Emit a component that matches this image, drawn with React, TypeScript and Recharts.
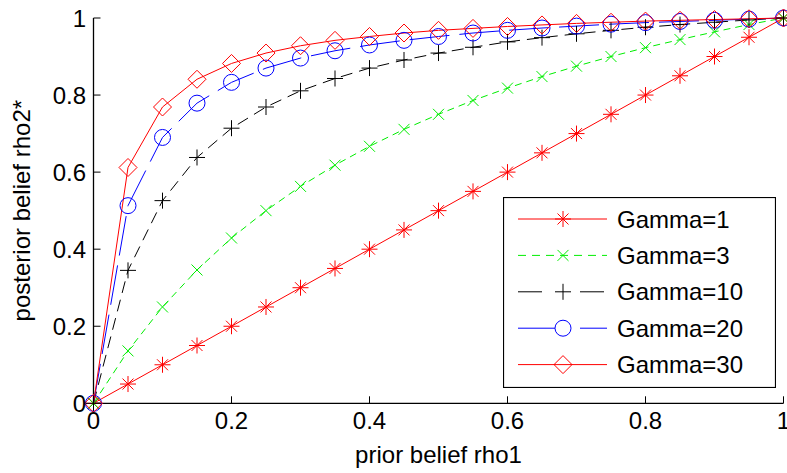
import React from 'react';
import { LineChart, Line, XAxis, YAxis, Legend, Label } from 'recharts';

// prior belief rho1 (x axis)
const priorBelief = [0, 0.05, 0.1, 0.15, 0.2, 0.25, 0.3, 0.35, 0.4, 0.45, 0.5, 0.55, 0.6, 0.65, 0.7, 0.75, 0.8, 0.85, 0.9, 0.95, 1];

// posterior belief rho2* for each Gamma
const gamma1 = [0, 0.05, 0.1, 0.15, 0.2, 0.25, 0.3, 0.35, 0.4, 0.45, 0.5, 0.55, 0.6, 0.65, 0.7, 0.75, 0.8, 0.85, 0.9, 0.95, 1];
const gamma3 = [0, 0.136, 0.25, 0.346, 0.429, 0.5, 0.563, 0.618, 0.667, 0.711, 0.75, 0.786, 0.818, 0.848, 0.875, 0.9, 0.923, 0.944, 0.964, 0.983, 1];
const gamma10 = [0, 0.345, 0.526, 0.638, 0.714, 0.769, 0.811, 0.843, 0.87, 0.891, 0.909, 0.924, 0.938, 0.949, 0.959, 0.968, 0.976, 0.983, 0.989, 0.995, 1];
const gamma20 = [0, 0.513, 0.69, 0.779, 0.833, 0.87, 0.896, 0.915, 0.93, 0.942, 0.952, 0.961, 0.968, 0.974, 0.979, 0.984, 0.988, 0.991, 0.994, 0.997, 1];
const gamma30 = [0, 0.612, 0.769, 0.841, 0.882, 0.909, 0.928, 0.942, 0.952, 0.961, 0.968, 0.973, 0.978, 0.982, 0.986, 0.989, 0.992, 0.994, 0.996, 0.998, 1];

const seriesNames = ['Gamma=1', 'Gamma=3', 'Gamma=10', 'Gamma=20', 'Gamma=30'];
const xTicks = [0, 0.2, 0.4, 0.6, 0.8, 1];
const yTicks = [0, 0.2, 0.4, 0.6, 0.8, 1];
const xLabel = 'prior belief rho1';
const yLabel = 'posterior belief rho2*';

const data = priorBelief.map((x, i) => ({
  x,
  g1: gamma1[i],
  g3: gamma3[i],
  g10: gamma10[i],
  g20: gamma20[i],
  g30: gamma30[i],
}));

const FONT = '"Liberation Sans", Arial, Helvetica, sans-serif';

type MarkerKind = 'star' | 'x' | 'plus' | 'circle' | 'diamond';

function Marker({ kind, cx, cy, color }: { kind: MarkerKind; cx: number; cy: number; color: string }) {
  const sw = 1;
  if (kind === 'star') {
    const h = 8;
    const d = 5.5;
    return (
      <g stroke={color} strokeWidth={sw} fill="none">
        <line x1={cx - h} y1={cy} x2={cx + h} y2={cy} />
        <line x1={cx} y1={cy - h} x2={cx} y2={cy + h} />
        <line x1={cx - d} y1={cy - d} x2={cx + d} y2={cy + d} />
        <line x1={cx - d} y1={cy + d} x2={cx + d} y2={cy - d} />
      </g>
    );
  }
  if (kind === 'x') {
    const d = 5.5;
    return (
      <g stroke={color} strokeWidth={sw} fill="none">
        <line x1={cx - d} y1={cy - d} x2={cx + d} y2={cy + d} />
        <line x1={cx - d} y1={cy + d} x2={cx + d} y2={cy - d} />
      </g>
    );
  }
  if (kind === 'plus') {
    const h = 8;
    return (
      <g stroke={color} strokeWidth={sw} fill="none">
        <line x1={cx - h} y1={cy} x2={cx + h} y2={cy} />
        <line x1={cx} y1={cy - h} x2={cx} y2={cy + h} />
      </g>
    );
  }
  if (kind === 'circle') {
    return <circle cx={cx} cy={cy} r={8} stroke={color} strokeWidth={sw} fill="none" />;
  }
  const d = 9;
  return (
    <polygon
      points={`${cx},${cy - d} ${cx + d},${cy} ${cx},${cy + d} ${cx - d},${cy}`}
      stroke={color}
      strokeWidth={sw}
      fill="none"
    />
  );
}

const makeDot = (kind: MarkerKind, color: string) => (props: any) => {
  const { cx, cy, index } = props;
  if (cx == null || cy == null) return <g key={`d-${kind}-${index}`} />;
  return (
    <g key={`d-${kind}-${index}`}>
      <Marker kind={kind} cx={cx} cy={cy} color={color} />
    </g>
  );
};

const seriesStyles = [
  { key: 'g1', color: '#ff0000', dash: undefined as string | undefined, marker: 'star' as MarkerKind },
  { key: 'g3', color: '#00ee00', dash: '7 5', marker: 'x' as MarkerKind },
  { key: 'g10', color: '#000000', dash: '12 7', marker: 'plus' as MarkerKind },
  { key: 'g20', color: '#0000ff', dash: '40 10', marker: 'circle' as MarkerKind },
  { key: 'g30', color: '#ff0000', dash: undefined as string | undefined, marker: 'diamond' as MarkerKind },
];

function LegendBox() {
  const W = 273;
  const H = 191;
  const rowY = (i: number) => 22 + i * 36.4;
  return (
    <svg width={W} height={H} style={{ display: 'block' }}>
      <rect x={0.5} y={0.5} width={W - 1} height={H - 1} fill="#fff" stroke="#000" strokeWidth={1.2} />
      {seriesNames.map((name, i) => {
        const s = seriesStyles[i];
        const y = rowY(i);
        let lines: React.ReactNode;
        if (i === 1) {
          lines = <line x1={15} y1={y} x2={104} y2={y} stroke={s.color} strokeWidth={1} strokeDasharray="8 6" />;
        } else if (i === 2) {
          lines = (
            <g stroke={s.color} strokeWidth={1}>
              <line x1={15} y1={y} x2={39} y2={y} />
              <line x1={77} y1={y} x2={101} y2={y} />
            </g>
          );
        } else if (i === 3) {
          lines = (
            <g stroke={s.color} strokeWidth={1}>
              <line x1={15} y1={y} x2={52} y2={y} />
              <line x1={77} y1={y} x2={104} y2={y} />
            </g>
          );
        } else {
          lines = <line x1={15} y1={y} x2={104} y2={y} stroke={s.color} strokeWidth={1} />;
        }
        return (
          <g key={name}>
            {lines}
            <Marker kind={s.marker} cx={60} cy={y} color={s.color} />
            <text x={114} y={y + 8.5} fontFamily={FONT} fontSize={24} fill="#000">
              {name}
            </text>
          </g>
        );
      })}
    </svg>
  );
}

const renderYLabel = (props: any) => {
  const vb = props.viewBox || {};
  const cx = (vb.x || 0) + 30;
  const cy = (vb.y || 0) + (vb.height || 0) / 2;
  return (
    <text
      x={cx}
      y={cy}
      transform={`rotate(-90, ${cx}, ${cy})`}
      textAnchor="middle"
      fontFamily={FONT}
      fontSize={24}
      fill="#000"
    >
      {yLabel}
    </text>
  );
};

const renderXLabel = (props: any) => {
  const vb = props.viewBox || {};
  const cx = (vb.x || 0) + (vb.width || 0) / 2;
  const cy = (vb.y || 0) + 60;
  return (
    <text x={cx} y={cy} textAnchor="middle" fontFamily={FONT} fontSize={24} fill="#000">
      {xLabel}
    </text>
  );
};

const fmt = (v: number) => String(v);
const tickStyle = { fill: '#000', fontSize: 24, fontFamily: FONT };
const axisLine = { stroke: '#000', strokeWidth: 1.3 };
const tickLine = { stroke: '#000', strokeWidth: 1 };

export default function App() {
  return (
    <div style={{ position: 'absolute', left: 0, top: 0, width: 787, height: 473, background: '#fff' }}>
      <LineChart width={787} height={473} data={data} margin={{ top: 18, right: 3.5, bottom: 0, left: 0 }}>
        <XAxis
          dataKey="x"
          type="number"
          domain={[0, 1]}
          ticks={xTicks}
          interval={0}
          tickFormatter={fmt}
          height={69.7}
          tickSize={-7}
          tickMargin={16}
          tick={tickStyle}
          axisLine={axisLine}
          tickLine={tickLine}
        >
          <Label content={renderXLabel} />
        </XAxis>
        <XAxis
          xAxisId="top"
          orientation="top"
          type="number"
          domain={[0, 1]}
          ticks={xTicks}
          interval={0}
          height={0}
          tickSize={-7}
          tick={false}
          axisLine={axisLine}
          tickLine={tickLine}
        />
        <YAxis
          type="number"
          domain={[0, 1]}
          ticks={yTicks}
          interval={0}
          tickFormatter={fmt}
          width={93.5}
          tickSize={-7}
          tickMargin={14.5}
          tick={tickStyle}
          axisLine={axisLine}
          tickLine={tickLine}
        >
          <Label content={renderYLabel} />
        </YAxis>
        <YAxis
          yAxisId="right"
          orientation="right"
          type="number"
          domain={[0, 1]}
          ticks={yTicks}
          interval={0}
          width={0}
          tickSize={-7}
          tick={false}
          axisLine={axisLine}
          tickLine={tickLine}
        />
        {seriesStyles.map((s, i) => (
          <Line
            key={s.key}
            dataKey={s.key}
            name={seriesNames[i]}
            type="linear"
            stroke={s.color}
            strokeWidth={1}
            strokeDasharray={s.dash}
            dot={makeDot(s.marker, s.color)}
            activeDot={false}
            isAnimationActive={false}
          />
        ))}
        <Legend
          layout="vertical"
          align="center"
          verticalAlign="middle"
          content={() => <LegendBox />}
          wrapperStyle={{ position: 'absolute', left: 503, top: 197, width: 273, height: 191, margin: 0, padding: 0 }}
        />
      </LineChart>
    </div>
  );
}
